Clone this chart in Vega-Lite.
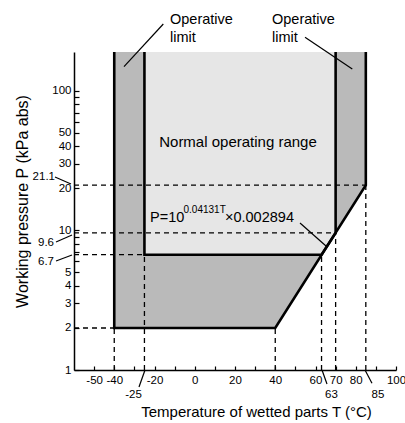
{
  "$schema": "https://vega.github.io/schema/vega-lite/v6.json",
  "autosize": {"type": "none"},
  "padding": {"left": 74, "top": 52, "right": 9, "bottom": 53},
  "width": 322,
  "height": 318,
  "background": "white",
  "config": {
    "view": {"stroke": null},
    "axis": {"labelFont": "Liberation Sans", "labelFontSize": 11.5, "labelColor": "black", "domainColor": "black", "domainWidth": 1.5, "tickColor": "black", "tickWidth": 1.2, "grid": false, "titleFont": "Liberation Sans", "titleFontSize": 15, "titleFontWeight": "normal", "titleColor": "black"}
  },
  "encoding": {
    "x": {
      "field": "T", "type": "quantitative",
      "scale": {"domain": [-60, 100], "nice": false, "zero": false},
      "axis": {
        "title": "Temperature of wetted parts T (°C)",
        "values": [-50, -40, -30, -20, -10, 0, 10, 20, 30, 40, 50, 60, 70, 80, 90, 100],
        "labelExpr": "indexof([-50,-40,-20,0,20,40,60,70,80,100], datum.value) >= 0 ? toString(datum.value) : ''",
        "tickSize": -4, "labelPadding": 8, "labelFlush": false, "labelOverlap": false,
        "titleX": 182, "titleY": 46, "titleBaseline": "alphabetic", "titleAnchor": null, "titleAlign": "center"
      }
    },
    "y": {
      "field": "P", "type": "quantitative",
      "scale": {"type": "log", "domain": [1, 190], "nice": false},
      "axis": {
        "title": "Working pressure P (kPa abs)",
        "values": [1, 2, 3, 4, 5, 6, 7, 8, 9, 10, 20, 30, 40, 50, 60, 70, 80, 90, 100],
        "labelExpr": "indexof([1,2,3,4,5,10,20,30,40,50,100], datum.value) >= 0 ? datum.label : ''",
        "tickSize": -5, "labelPadding": 8, "labelFlush": false, "labelOverlap": false,
        "titleFontSize": 16,
        "titleX": -52, "titleY": 149, "titleAngle": -90, "titleBaseline": "middle", "titleAlign": "center", "titleAnchor": null
      }
    }
  },
  "layer": [
    {
      "data": {"values": [
        {"T": -40, "P": 2, "top": 190},
        {"T": 40, "P": 2, "top": 190},
        {"T": 85, "P": 21.1, "top": 190}
      ]},
      "mark": {"type": "area", "color": "#bababa"},
      "encoding": {"y2": {"field": "top"}}
    },
    {
      "data": {"values": [
        {"T": -25, "P": 6.7, "top": 190},
        {"T": 63, "P": 6.7, "top": 190},
        {"T": 70, "P": 9.6, "top": 190}
      ]},
      "mark": {"type": "area", "color": "#e6e6e6"},
      "encoding": {"y2": {"field": "top"}}
    },
    {
      "data": {"values": [
        {"T": -60, "T2": 85, "P": 21.1, "P2": 21.1},
        {"T": -60, "T2": 70, "P": 9.6, "P2": 9.6},
        {"T": -60, "T2": -25, "P": 6.7, "P2": 6.7},
        {"T": -60, "T2": -40, "P": 2, "P2": 2},
        {"T": -40, "T2": -40, "P": 1, "P2": 2},
        {"T": -25, "T2": -25, "P": 1, "P2": 6.7},
        {"T": 40, "T2": 40, "P": 1, "P2": 2},
        {"T": 63, "T2": 63, "P": 1, "P2": 6.7},
        {"T": 70, "T2": 70, "P": 1, "P2": 9.6},
        {"T": 85, "T2": 85, "P": 1, "P2": 21.1}
      ]},
      "mark": {"type": "rule", "color": "black", "strokeWidth": 1.3, "strokeDash": [5, 4]},
      "encoding": {"x2": {"field": "T2"}, "y2": {"field": "P2"}}
    },
    {
      "data": {"values": [
        {"seg": "A", "k": 0, "T": -40, "P": 190},
        {"seg": "A", "k": 1, "T": -40, "P": 2},
        {"seg": "A", "k": 2, "T": 40, "P": 2},
        {"seg": "A", "k": 3, "T": 85, "P": 21.1},
        {"seg": "A", "k": 4, "T": 85, "P": 190},
        {"seg": "B", "k": 0, "T": -25, "P": 190},
        {"seg": "B", "k": 1, "T": -25, "P": 6.7},
        {"seg": "B", "k": 2, "T": 63, "P": 6.7},
        {"seg": "B", "k": 3, "T": 70, "P": 9.6},
        {"seg": "B", "k": 4, "T": 70, "P": 190}
      ]},
      "mark": {"type": "line", "color": "black", "strokeWidth": 2.6, "strokeJoin": "miter"},
      "encoding": {"detail": {"field": "seg"}, "order": {"field": "k"}}
    },
    {
      "data": {"values": [
        {"id": "a", "T": -69.44, "P": 24.15},
        {"id": "a", "T": -61.49, "P": 21.52},
        {"id": "b", "T": -68.94, "P": 8.265},
        {"id": "b", "T": -60.99, "P": 9.277},
        {"id": "c", "T": -68.94, "P": 6.04},
        {"id": "c", "T": -60.99, "P": 6.67},
        {"id": "d", "T": -27.7, "P": 0.7556},
        {"id": "d", "T": -24.72, "P": 1.0},
        {"id": "e", "T": 63.23, "P": 1.0},
        {"id": "e", "T": 65.71, "P": 0.7937},
        {"id": "f", "T": 84.6, "P": 1.0},
        {"id": "f", "T": 88.07, "P": 0.803},
        {"id": "g", "T": -35.16, "P": 149.1},
        {"id": "g", "T": -15.63, "P": 301.6},
        {"id": "h", "T": 54.78, "P": 242.2},
        {"id": "h", "T": 78.28, "P": 143.5},
        {"id": "i", "T": 52.3, "P": 11.31},
        {"id": "i", "T": 65.22, "P": 7.74}
      ]},
      "mark": {"type": "line", "color": "black", "strokeWidth": 1.2},
      "encoding": {"detail": {"field": "id"}}
    },
    {
      "data": {"values": [
        {"T": -69.44, "P": 24.15, "label": "21.1"},
        {"T": -69.94, "P": 8.13, "label": "9.6"},
        {"T": -69.94, "P": 5.94, "label": "6.7"}
      ]},
      "mark": {"type": "text", "font": "Liberation Sans", "fontSize": 11.5, "align": "right", "baseline": "middle", "color": "black"},
      "encoding": {"text": {"field": "label"}}
    },
    {
      "data": {"values": [
        {"T": -30.44, "P": 0.662, "label": "-25"},
        {"T": 67.95, "P": 0.662, "label": "63"},
        {"T": 91.05, "P": 0.662, "label": "85"}
      ]},
      "mark": {"type": "text", "font": "Liberation Sans", "fontSize": 11.5, "align": "center", "baseline": "middle", "color": "black"},
      "encoding": {"text": {"field": "label"}}
    },
    {
      "data": {"values": [
        {"T": -12.3, "P": 301.6, "label": "Operative"},
        {"T": -12.3, "P": 224.1, "label": "limit"},
        {"T": 38.38, "P": 301.6, "label": "Operative"},
        {"T": 38.38, "P": 224.1, "label": "limit"}
      ]},
      "mark": {"type": "text", "font": "Liberation Sans", "fontSize": 14.5, "align": "left", "baseline": "alphabetic", "color": "black"},
      "encoding": {"text": {"field": "label"}}
    },
    {
      "data": {"values": [
        {"T": 21.49, "P": 39.43, "label": "Normal operating range"}
      ]},
      "mark": {"type": "text", "font": "Liberation Sans", "fontSize": 15, "align": "center", "baseline": "alphabetic", "color": "black"},
      "encoding": {"text": {"field": "label"}}
    },
    {
      "data": {"values": [
        {"T": -22.24, "P": 11.55, "label": "P=10"},
        {"T": 15.03, "P": 11.55, "label": "×0.002894"}
      ]},
      "mark": {"type": "text", "font": "Liberation Sans", "fontSize": 14.5, "align": "left", "baseline": "alphabetic", "color": "black"},
      "encoding": {"text": {"field": "label"}}
    },
    {
      "data": {"values": [
        {"T": -5.59, "P": 13.34, "label": "0.04131T"}
      ]},
      "mark": {"type": "text", "font": "Liberation Sans", "fontSize": 10, "align": "left", "baseline": "alphabetic", "color": "black"},
      "encoding": {"text": {"field": "label"}}
    }
  ]
}
